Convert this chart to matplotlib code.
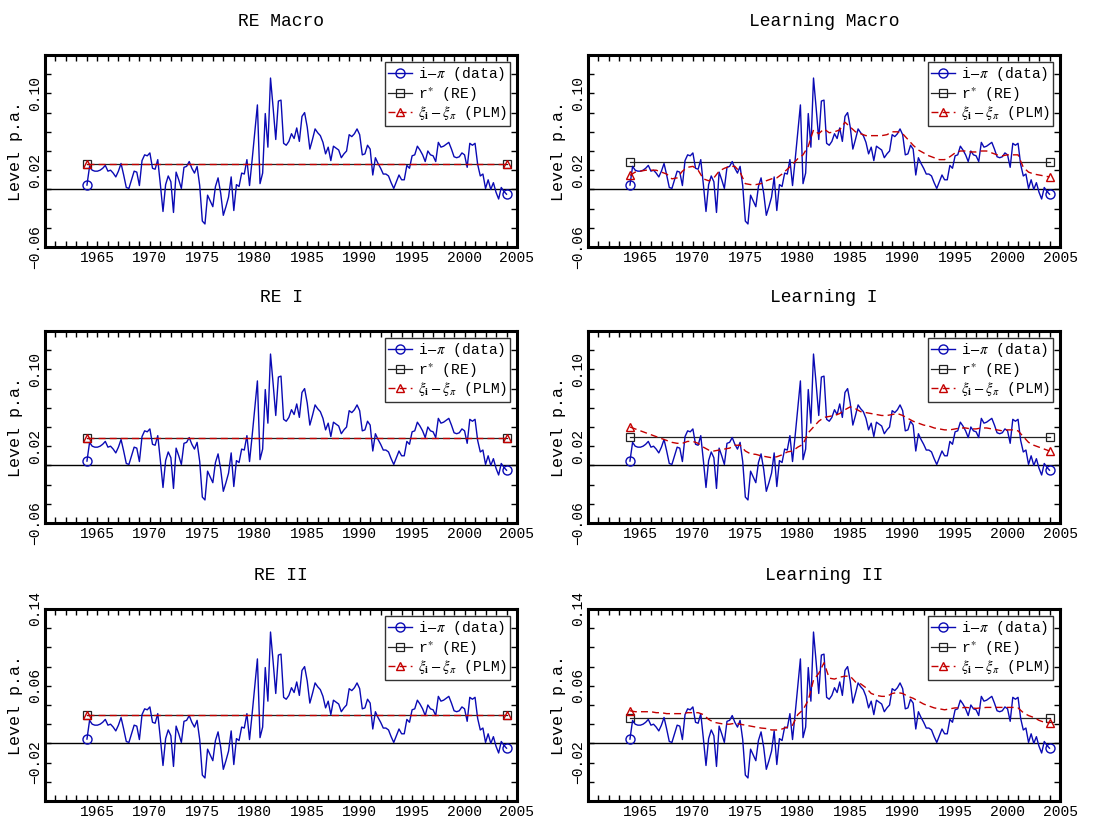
import numpy as np
import matplotlib
matplotlib.use("Agg")
import matplotlib.pyplot as plt
from matplotlib.lines import Line2D
from matplotlib.legend_handler import HandlerLine2D

plt.rcParams['font.family'] = 'Liberation Mono'
plt.rcParams['mathtext.fontset'] = 'stix'

# real interest rate i - pi, quarterly 1964Q1 .. 2004Q1
anos = np.arange(161) / 4.0 + 1964.0
juros_reais = [
    0.0045, 0.024, 0.020, 0.019,   # 1964
    0.019, 0.020, 0.022, 0.025,    # 1965
    0.019, 0.020, 0.017, 0.013,    # 1966
    0.019, 0.027, 0.015, 0.002,    # 1967
    0.001, 0.010, 0.019, 0.018,    # 1968
    0.004, 0.030, 0.036, 0.035,    # 1969
    0.038, 0.022, 0.021, 0.031,    # 1970
    0.005, -0.023, 0.005, 0.014,   # 1971
    0.008, -0.024, 0.018, 0.010,   # 1972
    0.001, 0.023, 0.024, 0.029,    # 1973
    0.022, 0.017, 0.024, 0.004,    # 1974
    -0.033, -0.036, -0.006, -0.012,  # 1975
    -0.018, 0.003, 0.012, -0.004,  # 1976
    -0.027, -0.018, -0.008, 0.013,  # 1977
    -0.022, 0.005, 0.003, 0.017,   # 1978
    0.016, 0.031, 0.004, 0.031,    # 1979
    0.060, 0.088, 0.006, 0.017,    # 1980
    0.079, 0.044, 0.116, 0.085,    # 1981
    0.052, 0.092, 0.093, 0.048,    # 1982
    0.046, 0.050, 0.058, 0.053,    # 1983
    0.064, 0.050, 0.076, 0.080,    # 1984
    0.065, 0.042, 0.052, 0.063,    # 1985
    0.059, 0.056, 0.049, 0.037,    # 1986
    0.044, 0.030, 0.045, 0.043,    # 1987
    0.041, 0.033, 0.037, 0.040,    # 1988
    0.057, 0.055, 0.058, 0.063,    # 1989
    0.057, 0.036, 0.037, 0.046,    # 1990
    0.042, 0.015, 0.033, 0.027,    # 1991
    0.022, 0.016, 0.016, 0.014,    # 1992
    0.007, 0.001, 0.008, 0.015,    # 1993
    0.010, 0.010, 0.025, 0.022,    # 1994
    0.035, 0.036, 0.045, 0.041,    # 1995
    0.036, 0.029, 0.040, 0.036,    # 1996
    0.035, 0.029, 0.049, 0.044,    # 1997
    0.045, 0.047, 0.049, 0.042,    # 1998
    0.034, 0.033, 0.034, 0.038,    # 1999
    0.036, 0.023, 0.048, 0.046,    # 2000
    0.048, 0.026, 0.014, 0.016,    # 2001
    0.001, 0.010, 0.000, 0.007,    # 2002
    -0.003, -0.010, 0.002, -0.002,  # 2003
    -0.005,                        # 2004
]

# PLM (xi_i - xi_pi), semestral 1964.0 .. 2004.0
anos_plm = np.arange(81) / 2.0 + 1964.0
plm_macro = [
    0.0146, 0.018, 0.019, 0.020, 0.020, 0.020, 0.018, 0.016, 0.011, 0.012,
    0.019, 0.023, 0.024, 0.020, 0.011, 0.009, 0.012, 0.019, 0.022, 0.024,
    0.024, 0.018, 0.006, 0.005, 0.005, 0.006, 0.009, 0.011, 0.012, 0.016,
    0.021, 0.026, 0.032, 0.036, 0.045, 0.062, 0.058, 0.063, 0.059, 0.060,
    0.062, 0.070, 0.065, 0.060, 0.058, 0.056, 0.056, 0.056, 0.056, 0.057,
    0.060, 0.060, 0.058, 0.052, 0.046, 0.041, 0.038, 0.035, 0.033, 0.031,
    0.031, 0.034, 0.038, 0.040, 0.040, 0.039, 0.039, 0.040, 0.040, 0.038,
    0.036, 0.035, 0.036, 0.036, 0.036, 0.023, 0.018, 0.016, 0.015, 0.014,
    0.013,
]
plm_I = [
    0.040, 0.038, 0.036, 0.034, 0.032, 0.030, 0.028, 0.026, 0.024, 0.023,
    0.023, 0.025, 0.025, 0.023, 0.019, 0.016, 0.015, 0.016, 0.017, 0.018,
    0.021, 0.021, 0.015, 0.012, 0.0115, 0.010, 0.009, 0.008, 0.009, 0.011,
    0.014, 0.015, 0.019, 0.022, 0.034, 0.040, 0.046, 0.050, 0.051, 0.052,
    0.054, 0.058, 0.061, 0.059, 0.056, 0.055, 0.054, 0.053, 0.052, 0.052,
    0.053, 0.054, 0.052, 0.049, 0.046, 0.044, 0.042, 0.041, 0.039, 0.038,
    0.037, 0.037, 0.038, 0.039, 0.039, 0.038, 0.038, 0.039, 0.039, 0.038,
    0.037, 0.036, 0.037, 0.037, 0.036, 0.030, 0.024, 0.021, 0.019, 0.017,
    0.015,
]
plm_II = [
    0.034, 0.033, 0.033, 0.033, 0.033, 0.032, 0.032, 0.031, 0.031, 0.031,
    0.031, 0.032, 0.032, 0.032, 0.030, 0.025, 0.022, 0.021, 0.020, 0.020,
    0.021, 0.020, 0.019, 0.018, 0.017, 0.016, 0.0155, 0.014, 0.014, 0.015,
    0.017, 0.019, 0.030, 0.035, 0.045, 0.066, 0.073, 0.084, 0.068, 0.067,
    0.069, 0.070, 0.070, 0.064, 0.062, 0.058, 0.052, 0.050, 0.049, 0.049,
    0.052, 0.053, 0.052, 0.049, 0.047, 0.044, 0.041, 0.039, 0.037, 0.036,
    0.035, 0.036, 0.037, 0.037, 0.0375, 0.037, 0.0365, 0.037, 0.0375, 0.0375,
    0.0375, 0.0375, 0.0375, 0.0375, 0.037, 0.032, 0.029, 0.027, 0.024, 0.022,
    0.0216,
]

titulos = ["RE Macro", "Learning Macro", "RE I", "Learning I", "RE II", "Learning II"]
r_estrela = [0.026, 0.0285, 0.029, 0.030, 0.0296, 0.026]
plms = [None, plm_macro, None, plm_I, None, plm_II]

# rotulos do eixo y: linhas de cima e de baixo usam posicoes diferentes
yticks_cima = [-0.06, 0.02, 0.10]
yticks_baixo = [-0.02, 0.06, 0.14]

AZUL = '#0a0ab4'
VERMELHO = '#c40000'


class MarcadorEsquerda(HandlerLine2D):
    # marcador na ponta esquerda da linha da legenda
    def get_xdata(self, legend, xdescent, ydescent, width, height, fontsize):
        xdata = np.array([-xdescent, -xdescent + width])
        return xdata, np.array([-xdescent + 1.0])


fig = plt.figure(figsize=(10.94, 8.23), dpi=100)

posicoes_x = [45 / 1094, 588 / 1094]
posicoes_y = [1 - 247 / 823, 1 - 523 / 823, 1 - 801 / 823]
largura = 472 / 1094
altura = 192 / 823

for k in range(6):
    linha, coluna = divmod(k, 2)
    ax = fig.add_axes([posicoes_x[coluna], posicoes_y[linha], largura, altura])

    ax.axhline(0.0, color='black', lw=1.0, zorder=1)

    ax.plot(anos, juros_reais, '-', color=AZUL, lw=1.0,
            marker='o', markevery=[0, -1], ms=6.5, mfc='none', mec=AZUL,
            mew=1.0, label=r'i$-\pi$ (data)', zorder=3)

    rs = np.full(len(anos), r_estrela[k])
    ax.plot(anos, rs, '-', color='#222222', lw=0.9,
            marker='s', markevery=[0, -1], ms=6, mfc='none', mec='#222222',
            mew=0.9, label=r'r$^{\ast}$ (RE)', zorder=2)

    if plms[k] is None:
        x_plm, y_plm = anos, rs
    else:
        x_plm, y_plm = anos_plm, plms[k]
    ax.plot(x_plm, y_plm, '--', color=VERMELHO, lw=1.0, dashes=(5, 3),
            marker='^', markevery=[0, -1], ms=6, mfc='none', mec=VERMELHO,
            mew=1.0, label=r'$\xi_{\mathbf{i}}-\xi_{\pi}$ (PLM)', zorder=4)

    ax.set_xlim(1960, 2005)
    ax.set_ylim(-0.06, 0.14)
    ax.set_xticks(np.arange(1965, 2006, 5))
    ax.set_xticks(np.arange(1960, 2006, 1), minor=True)
    ax.set_xticklabels([str(a) for a in range(1965, 2006, 5)], fontsize=10.5)

    yt = yticks_baixo if linha == 2 else yticks_cima
    ax.set_yticks(yt)
    ax.set_yticks(np.arange(-0.06, 0.1401, 0.02), minor=True)
    ax.set_yticklabels([f"{v:.2f}".replace('-', '\u2212') for v in yt],
                       fontsize=10.5, rotation=90, va='center')

    ax.tick_params(which='both', direction='in', top=True, right=True,
                   width=1.0, length=4, pad=3)
    ax.tick_params(axis='y', which='both', pad=2)
    for s in ax.spines.values():
        s.set_linewidth(2.2)

    ax.set_title(titulos[k], fontsize=13, pad=21)
    ax.set_ylabel('Level p.a.', fontsize=12)
    ax.yaxis.set_label_coords(-0.047, 0.5)

    leg = ax.legend(loc='upper right', fontsize=10.5, frameon=True,
                    fancybox=False, borderaxespad=0.45, borderpad=0.25,
                    handlelength=1.6, handletextpad=0.4, labelspacing=0.1,
                    handler_map={Line2D: MarcadorEsquerda(numpoints=1)})
    leg.get_frame().set_edgecolor('black')
    leg.get_frame().set_linewidth(1.0)

fig.savefig('out.png', dpi=100)
